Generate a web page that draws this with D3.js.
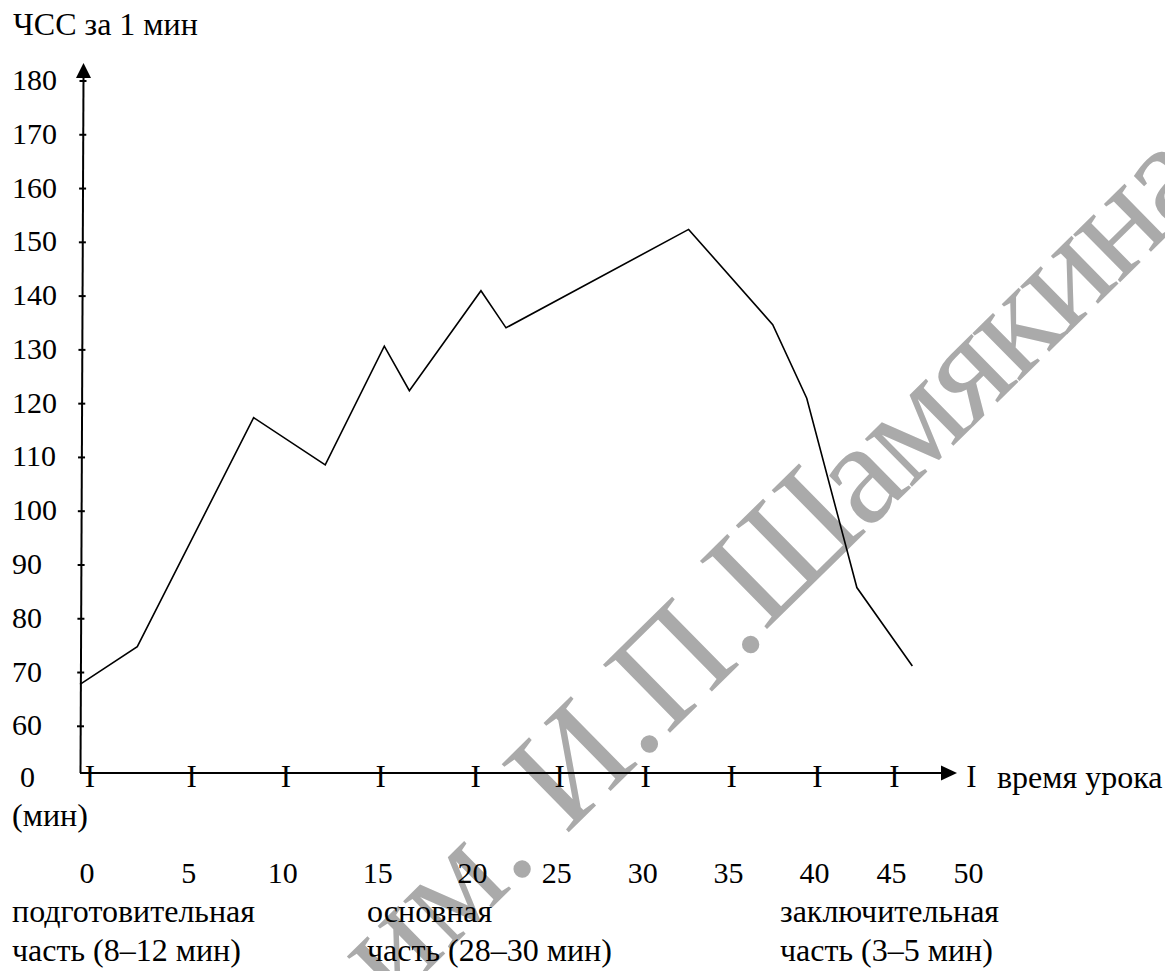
<!DOCTYPE html>
<html lang="ru">
  <head>
    <meta charset="UTF-8" />
    <title>ЧСС за урок</title>
    <style>
  body { margin: 0; background: #fff; }
</style>
  </head>
  <body>
<div class="chart"></div>
  <script src="https://cdn.jsdelivr.net/npm/d3@7/dist/d3.min.js"></script>
    <script>

    // heart rate curve (minutes from start, beats per minute)
    var minutes   = [0, 3.2, 9.7, 13.7, 17.0, 18.4, 22.4, 23.8, 34.0, 38.7, 40.6, 43.4, 46.5];
    var heartRate = [67.8, 74.8, 117.4, 108.6, 130.7, 122.4, 141.0, 134.1, 152.4, 134.7, 121.0, 85.8, 71.2];

    var yTicks = [180, 170, 160, 150, 140, 130, 120, 110, 100, 90, 80, 70, 60];
    var xTickLabels = ["0", "5", "10", "15", "20", "25", "30", "35", "40", "45", "50"];
    // where the "I" marks sit on the time axis
    var xTickAt = [0.56, 6.24, 11.5, 16.8, 22.1, 26.8, 31.6, 36.4, 41.2, 45.5, 49.8];

    var phaseLines = [
      ["подготовительная", "часть (8–12 мин)"],
      ["основная", "часть (28–30 мин)"],
      ["заключительная", "часть (3–5 мин)"]
    ];
    var phaseX = [12, 367, 780];

    var width = 1165;
    var height = 971;
    var axisY = 773;
    var axisEnd = 957;
    var fsNum = 30;
    var fsWord = 32;
    var serif = "Liberation Serif";

    var svg = d3.select(".chart")
      .append("svg")
      .attr("width", width)
      .attr("height", height)
      .attr("font-family", serif);

    var x = d3.scaleLinear().domain([0, 50]).range([80, 975]);
    var y = d3.scaleLinear().domain([60, 180]).range([726.3, 81]);

    // watermark
    var wm = svg.append("text")
      .attr("transform", "translate(392,1006) rotate(-44.5)")
      .attr("font-family", serif)
      .attr("font-size", 146)
      .attr("fill", "#aaaaaa");
    wm.append("tspan").text("им. И.П.");
    wm.append("tspan").attr("letter-spacing", -4).attr("dy", -6).text("Шамякина");

    // y axis
    svg.append("line")
      .attr("x1", 83.5).attr("y1", y(180) - 4)
      .attr("x2", 80.5).attr("y2", axisY)
      .attr("stroke", "#000").attr("stroke-width", 2);
    svg.append("path")
      .attr("d", "M83.5,63 L76,78 L91,78 Z")
      .attr("fill", "#000");

    svg.selectAll(".ytick")
      .data(yTicks)
      .enter()
      .append("line")
      .attr("class", "ytick")
      .attr("x1", function(d){ return 77 + (d - 60) / 120 * 2.5; })
      .attr("x2", function(d){ return 84 + (d - 60) / 120 * 2.5; })
      .attr("y1", function(d){ return y(d); })
      .attr("y2", function(d){ return y(d); })
      .attr("stroke", "#000").attr("stroke-width", 2);

    function label(xp, yp, t, size) {
      return svg.append("text")
        .attr("x", xp).attr("y", yp)
        .attr("font-family", serif)
        .attr("font-size", size)
        .text(t);
    }

    yTicks.forEach(function(d){ label(12, y(d) + 9, d, fsNum); });

    label(20, 787, "0", fsNum);
    label(12, 826, "(мин)", fsWord);
    label(13, 35, "ЧСС за 1 мин", fsWord);

    // x axis
    svg.append("line")
      .attr("x1", 80).attr("y1", axisY)
      .attr("x2", axisEnd - 12).attr("y2", axisY)
      .attr("stroke", "#000").attr("stroke-width", 2);
    svg.append("path")
      .attr("d", "M" + axisEnd + "," + axisY + " L" + (axisEnd - 16) + "," + (axisY - 7.5) + " L" + (axisEnd - 16) + "," + (axisY + 7.5) + " Z")
      .attr("fill", "#000");

    xTickAt.forEach(function(d){
      label(x(d), 787, "I", 31).attr("text-anchor", "middle");
    });

    label(997, 788, "время урока", fsWord);

    xTickLabels.forEach(function(d, i){
      label(x(xTickAt[i]) - 3, 883, d, fsNum).attr("text-anchor", "middle");
    });

    phaseLines.forEach(function(p, i){
      label(phaseX[i], 922, p[0], fsWord);
      label(phaseX[i], 961, p[1], fsWord);
    });

    // the curve
    var line = d3.line()
      .x(function(d){ return x(d[0]); })
      .y(function(d){ return y(d[1]); });

    svg.append("path")
      .datum(d3.zip(minutes, heartRate))
      .attr("d", line)
      .attr("fill", "none")
      .attr("stroke", "#000")
      .attr("stroke-width", 1.6)
      .attr("stroke-linejoin", "miter");

    </script>
  </body>
</html>
